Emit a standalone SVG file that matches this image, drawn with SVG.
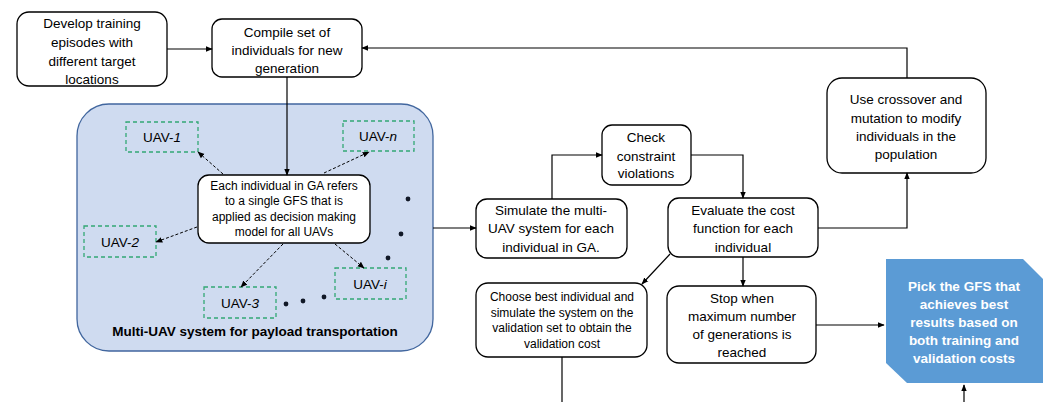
<svg xmlns="http://www.w3.org/2000/svg" width="1049" height="402" viewBox="0 0 1049 402">
<defs>
<style>
.box{fill:#fff;stroke:#000;stroke-width:1.3}
.uav{fill:none;stroke:#33a874;stroke-width:1.3;stroke-dasharray:4 3}
.t{font-family:"Liberation Sans",Arial,sans-serif;font-size:13.5px;fill:#000;text-anchor:middle;dominant-baseline:central}
.ts{font-size:12px}
.tb{font-weight:bold}
.ln{fill:none;stroke:#000;stroke-width:1.2}
.dl{fill:none;stroke:#000;stroke-width:1;stroke-dasharray:3 2}
.dot{fill:#111827}
</style>
<marker id="ah" viewBox="0 0 10 10" refX="9" refY="5" markerWidth="7" markerHeight="7" markerUnits="userSpaceOnUse" orient="auto"><path d="M0,1 L10,5 L0,9 z" fill="#000"/></marker>
</defs>
<rect width="1049" height="402" fill="#fff"/>

<g id="system">
<rect x="77" y="104" width="356" height="247" rx="32" fill="#cfdbf0" stroke="#41669e" stroke-width="1.3"/>
<text class="t tb" x="255" y="331" font-size="14">Multi-UAV system for payload transportation</text>
</g>

<g id="develop"><rect class="box" x="17" y="12" width="150" height="74" rx="12"/>
<text class="t"><tspan x="92" y="23">Develop training</tspan><tspan x="92" y="42">episodes with</tspan><tspan x="92" y="61">different target</tspan><tspan x="92" y="79">locations</tspan></text></g>

<g id="compile"><rect class="box" x="212" y="19" width="150" height="58" rx="10"/>
<text class="t"><tspan x="287" y="32">Compile set of</tspan><tspan x="287" y="50">individuals for new</tspan><tspan x="287" y="68">generation</tspan></text></g>

<g id="ga"><rect class="box" x="198" y="175" width="172" height="68" rx="11"/>
<text class="t ts"><tspan x="284" y="186">Each individual in GA refers</tspan><tspan x="284" y="201">to a single GFS that is</tspan><tspan x="284" y="217">applied as decision making</tspan><tspan x="284" y="232">model for all UAVs</tspan></text></g>

<g id="uav1"><rect class="uav" x="126" y="122" width="72" height="30"/><text class="t" x="162" y="137">UAV-<tspan font-style="italic">1</tspan></text></g>
<g id="uavn"><rect class="uav" x="343" y="121" width="71" height="30"/><text class="t" x="378" y="136">UAV-<tspan font-style="italic">n</tspan></text></g>
<g id="uav2"><rect class="uav" x="84" y="226" width="72" height="31"/><text class="t" x="120" y="242">UAV-<tspan font-style="italic">2</tspan></text></g>
<g id="uav3"><rect class="uav" x="204" y="287" width="72" height="31"/><text class="t" x="240" y="303">UAV-<tspan font-style="italic">3</tspan></text></g>
<g id="uavi"><rect class="uav" x="335" y="268" width="71" height="31"/><text class="t" x="370" y="284">UAV-<tspan font-style="italic">i</tspan></text></g>

<g id="dots">
<circle class="dot" cx="408" cy="199" r="2.4"/>
<circle class="dot" cx="401" cy="234" r="2.4"/>
<circle class="dot" cx="388" cy="258" r="2.4"/>
<circle class="dot" cx="324" cy="297" r="2.4"/>
<circle class="dot" cx="303" cy="301" r="2.4"/>
<circle class="dot" cx="286" cy="304" r="2.4"/>
</g>

<g id="simulate"><rect class="box" x="476" y="199" width="151" height="59" rx="11"/>
<text class="t"><tspan x="551" y="210">Simulate the multi-</tspan><tspan x="551" y="228">UAV system for each</tspan><tspan x="551" y="247">individual in GA.</tspan></text></g>

<g id="check"><rect class="box" x="602" y="125" width="89" height="60" rx="10"/>
<text class="t"><tspan x="646" y="137">Check</tspan><tspan x="646" y="156">constraint</tspan><tspan x="646" y="173">violations</tspan></text></g>

<g id="evaluate"><rect class="box" x="668" y="198" width="150" height="59" rx="11"/>
<text class="t"><tspan x="743" y="210">Evaluate the cost</tspan><tspan x="743" y="228">function for each</tspan><tspan x="743" y="247">individual</tspan></text></g>

<g id="crossover"><rect class="box" x="827" y="78" width="159" height="95" rx="15"/>
<text class="t"><tspan x="906" y="99">Use crossover and</tspan><tspan x="906" y="118">mutation to modify</tspan><tspan x="906" y="136">individuals in the</tspan><tspan x="906" y="154">population</tspan></text></g>

<g id="choose"><rect class="box" x="476" y="283" width="171" height="74" rx="12"/>
<text class="t ts"><tspan x="562" y="297">Choose best individual and</tspan><tspan x="562" y="313">simulate the system on the</tspan><tspan x="562" y="328">validation set to obtain the</tspan><tspan x="562" y="344">validation cost</tspan></text></g>

<g id="stop"><rect class="box" x="667" y="286" width="149" height="77" rx="12"/>
<text class="t"><tspan x="742" y="298">Stop when</tspan><tspan x="742" y="316">maximum number</tspan><tspan x="742" y="334">of generations is</tspan><tspan x="742" y="352">reached</tspan></text></g>

<g id="pick"><path d="M886,259 L1023,259 L1043,279 L1043,383 L907,383 L886,363 Z" fill="#5b9bd5"/>
<text class="t tb" fill="#fff" style="fill:#fff"><tspan x="964" y="286">Pick the GFS that</tspan><tspan x="964" y="304">achieves best</tspan><tspan x="964" y="322">results based on</tspan><tspan x="964" y="340">both training and</tspan><tspan x="964" y="358">validation costs</tspan></text></g>

<g id="connectors">
<path class="ln" d="M167,49 L212,49" marker-end="url(#ah)"/>
<path class="ln" d="M907,78 L907,48 L362,48" marker-end="url(#ah)"/>
<path class="ln" d="M287,77 L287,175" marker-end="url(#ah)"/>
<path class="dl" d="M223,174 L198,152" marker-end="url(#ah)"/>
<path class="dl" d="M324,173 L369,152" marker-end="url(#ah)"/>
<path class="dl" d="M197,227 L156,242" marker-end="url(#ah)"/>
<path class="dl" d="M283,244 L241,287" marker-end="url(#ah)"/>
<path class="dl" d="M335,244 L364,268" marker-end="url(#ah)"/>
<path class="ln" d="M433,228 L476,228" marker-end="url(#ah)"/>
<path class="ln" d="M552,199 L552,155 L602,155" marker-end="url(#ah)"/>
<path class="ln" d="M691,155 L743,155 L743,198" marker-end="url(#ah)"/>
<path class="ln" d="M818,228 L907,228 L907,173" marker-end="url(#ah)"/>
<path class="ln" d="M743,257 L743,286" marker-end="url(#ah)"/>
<path class="ln" d="M670,254 L642,284" marker-end="url(#ah)"/>
<path class="ln" d="M562,357 L562,402"/>
<path class="ln" d="M816,325 L884,325" marker-end="url(#ah)"/>
<path class="ln" d="M964,402 L964,385" marker-end="url(#ah)"/>
</g>
</svg>
